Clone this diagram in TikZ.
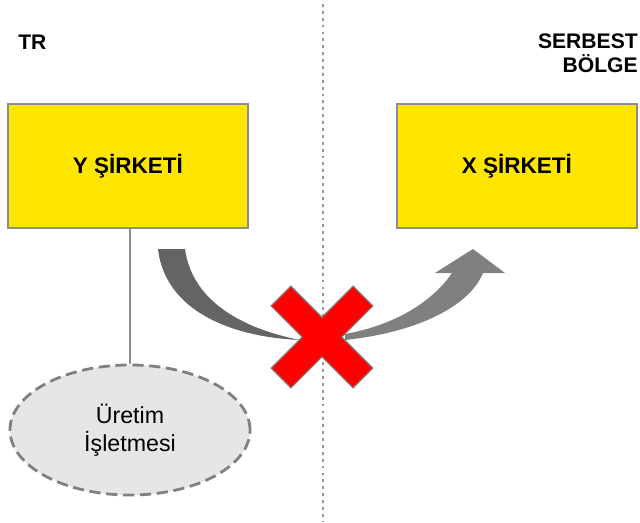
\documentclass[tikz,border=0pt]{standalone}
\usepackage{fontspec}
\setmainfont{Liberation Sans}
\usepackage{tikz}
\usepackage{xcolor}
\usetikzlibrary{shapes.geometric, positioning, calc}
\definecolor{cYellow}{RGB}{255,230,0}
\definecolor{cBorder}{RGB}{140,140,140}
\definecolor{cDark}{RGB}{100,100,100}
\definecolor{cMid}{RGB}{128,128,128}
\definecolor{cDot}{RGB}{150,150,150}
\definecolor{cLight}{RGB}{230,230,230}
\definecolor{cRed}{RGB}{255,0,0}
\tikzset{
	firma/.style   ={rectangle, draw=cBorder, line width=1.2pt, fill=cYellow, minimum width=6cm, minimum height=3.1cm, align=center, font=\bfseries\fontsize{16}{19}\selectfont},
	isletme/.style ={ellipse, draw=cMid, line width=2pt, dash pattern=on 8pt off 4pt, fill=cLight, minimum width=6cm, minimum height=3.25cm, inner sep=0pt, align=center, font=\fontsize{16.5}{20}\selectfont},
	bolge/.style   ={font=\bfseries\fontsize{15}{17.7}\selectfont, inner sep=0pt},
	sinir/.style   ={cDot, line width=2pt, dash pattern=on 2pt off 2.9pt},
}
\begin{document}
\begin{tikzpicture}[x=0.025cm, y=-0.025cm]
	\useasboundingbox (0,0) rectangle (640,522);
	\draw[sinir] (323,4) -- (323,522);
	\node[bolge, anchor=west] (tr) at (18,42) {TR};
	\node[bolge, anchor=north east, align=right] (sb) at (638,33) {SERBEST\\BÖLGE};
	\node[firma] (ysirket) at (128,166) {Y ŞİRKETİ};
	\node[firma] (xsirket) at (517,166) {X ŞİRKETİ};
	\node[isletme] (uretim) at (130,430) {Üretim\\İşletmesi};
	\draw[cBorder, line width=1pt] (ysirket.south -| uretim.north) -- (uretim.north);
	% blocked transfer
	\coordinate (engel) at (322,337);
	\fill[cDark] (158,249) .. controls (165,310) and (230,337) .. (300,340)
		.. controls (240,328) and (192,300) .. (185,249) -- cycle;
	\fill[cMid] (345,340) .. controls (420,332) and (470,305) .. (483,273)
		-- (505,273) -- (473,249) -- (435,273) -- (452,273)
		.. controls (430,305) and (390,326) .. (345,334) -- cycle;
	\filldraw[cRed, draw=cMid, line width=0.8pt, shift={(engel)}, rotate=45]
		(14,58) -- (14,14) -- (58,14) -- (58,-14) -- (14,-14) -- (14,-58)
		-- (-14,-58) -- (-14,-14) -- (-58,-14) -- (-58,14) -- (-14,14) -- (-14,58) -- cycle;
\end{tikzpicture}
\end{document}
